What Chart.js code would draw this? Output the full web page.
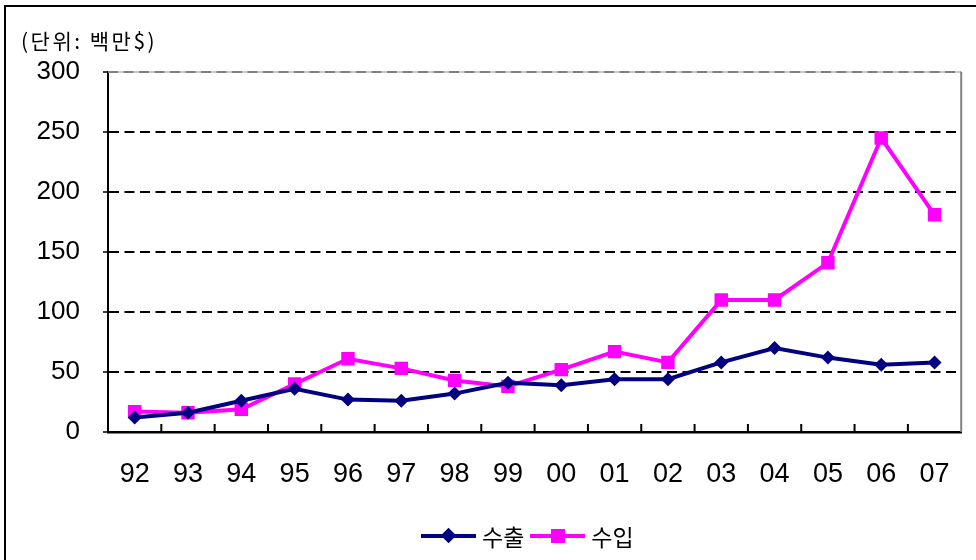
<!DOCTYPE html>
<html>
<head>
<meta charset="utf-8">
<script src="https://cdn.jsdelivr.net/npm/chart.js@4"></script>
<style>
  body { margin: 0; background: #fff; }
  #wrap { position: relative; width: 976px; height: 560px; overflow: hidden; background: #fff; }
  #frame { position: absolute; left: 4px; top: 5px; width: 1000px; height: 600px; border: 2px solid #000; }
  #unit { position: absolute; left: 21px; top: 25px; font: 21px "Noto Sans CJK KR", sans-serif; letter-spacing: 2.5px; color: #000; }
  #legend { position: absolute; left: 421px; top: 519px; font: 23px "Noto Sans CJK KR", sans-serif; color: #000; display: flex; align-items: center; }
  .item { display: flex; align-items: center; margin-right: 6px; }
  .key { position: relative; width: 55px; height: 30px; margin-right: 6px; }
  .key .ln { position: absolute; left: 0; right: 0; top: 13px; height: 4px; }
  .key .mk { position: absolute; }
  canvas { position: absolute; left: 0; top: 0; }
</style>
</head>
<body>
<div id="wrap">
  <div id="frame"></div>
  <canvas id="chartCanvas" width="976" height="560"></canvas>
  <div id="unit">(단위: 백만$)</div>
  <div id="legend"></div>
</div>
<script>
const years = ['92', '93', '94', '95', '96', '97', '98', '99', '00', '01', '02', '03', '04', '05', '06', '07'];
const exportValues = [12, 16, 26, 36, 27, 26, 32, 41, 39, 44, 44, 58, 70, 62, 56, 58];
const importValues = [17, 16, 19, 40, 61, 53, 43, 38, 52, 67, 58, 110, 110, 141, 245, 181];
const seriesNames = ['수출', '수입'];
const yTicks = [0, 50, 100, 150, 200, 250, 300];

const navy = '#000080';
const magenta = '#ff00ff';

// frame pieces the axes don't draw: inner ticks on x, short ticks on y, grey right edge
const framePlugin = {
  id: 'framePlugin',
  beforeDatasetsDraw(chart) {
    const { ctx, chartArea } = chart;
    ctx.save();
    ctx.strokeStyle = '#c8c8c8';
    ctx.lineWidth = 2;
    ctx.beginPath();
    ctx.moveTo(chartArea.left, chartArea.top);
    ctx.lineTo(chartArea.right, chartArea.top);
    ctx.stroke();
    ctx.strokeStyle = '#808080';
    ctx.setLineDash([10, 5.5]);
    ctx.beginPath();
    ctx.moveTo(chartArea.left, chartArea.top);
    ctx.lineTo(chartArea.right, chartArea.top);
    ctx.stroke();
    ctx.restore();
  },
  afterDraw(chart) {
    const { ctx, chartArea, scales } = chart;
    const x = scales.x;
    const y = scales.y;
    ctx.save();
    ctx.strokeStyle = '#808080';
    ctx.lineWidth = 2;
    ctx.beginPath();
    ctx.moveTo(chartArea.right, chartArea.top);
    ctx.lineTo(chartArea.right, chartArea.bottom);
    ctx.stroke();
    ctx.strokeStyle = '#000';
    ctx.lineWidth = 2;
    ctx.beginPath();
    for (let i = 1; i < years.length; i++) {
      const px = (x.getPixelForValue(i - 1) + x.getPixelForValue(i)) / 2;
      ctx.moveTo(px, chartArea.bottom);
      ctx.lineTo(px, chartArea.bottom - 8);
    }
    ctx.stroke();
    ctx.lineWidth = 1.5;
    ctx.beginPath();
    yTicks.forEach(v => {
      const py = y.getPixelForValue(v);
      ctx.moveTo(chartArea.left - 5, py);
      ctx.lineTo(chartArea.left, py);
    });
    ctx.stroke();
    ctx.restore();
  }
};

const ctx = document.getElementById('chartCanvas').getContext('2d');
const chart = new Chart(ctx, {
  type: 'line',
  data: {
    labels: years,
    datasets: [{
      label: seriesNames[0],
      data: exportValues,
      borderColor: navy,
      backgroundColor: navy,
      borderWidth: 4,
      pointStyle: 'rectRot',
      pointRadius: 7,
      pointBorderWidth: 0,
      tension: 0
    }, {
      label: seriesNames[1],
      data: importValues,
      borderColor: magenta,
      backgroundColor: magenta,
      borderWidth: 4,
      pointStyle: 'rect',
      pointRadius: 9.5,
      pointBorderWidth: 0,
      tension: 0
    }]
  },
  options: {
    responsive: false,
    animation: false,
    devicePixelRatio: 1,
    layout: { padding: { top: 72, right: 14, left: 0, bottom: 0 } },
    plugins: { legend: { display: false }, tooltip: { enabled: false } },
    scales: {
      x: {
        offset: true,
        grid: { display: false, drawTicks: false },
        border: { display: true, color: '#000', width: 2.5 },
        ticks: { color: '#000', padding: 26, font: { family: 'Liberation Sans', size: 27 } },
        afterFit(scale) { scale.height = 128; }
      },
      y: {
        min: 0,
        max: 300,
        afterBuildTicks(scale) { scale.ticks = yTicks.map(v => ({ value: v })); },
        grid: {
          drawTicks: false,
          lineWidth: 2,
          color: c => (c.tick.value === 0 || c.tick.value === 300) ? 'rgba(0,0,0,0)' : '#000'
        },
        border: { display: true, color: '#000', width: 2, dash: [10, 5.5] },
        ticks: { color: '#000', padding: 28, font: { family: 'Liberation Sans', size: 26 } },
        afterFit(scale) { scale.width = 108; }
      }
    }
  },
  plugins: [framePlugin]
});

const legend = document.getElementById('legend');
chart.data.datasets.forEach((ds, i) => {
  const item = document.createElement('div');
  item.className = 'item';
  const mk = i === 0
    ? '<div class="mk" style="left:22px;top:9px;width:11px;height:11px;background:' + ds.borderColor + ';transform:rotate(45deg)"></div>'
    : '<div class="mk" style="left:21px;top:8px;width:14px;height:14px;background:' + ds.borderColor + '"></div>';
  item.innerHTML = '<div class="key"><div class="ln" style="background:' + ds.borderColor + '"></div>' + mk + '</div><span>' + ds.label + '</span>';
  legend.appendChild(item);
});
</script>
</body>
</html>
